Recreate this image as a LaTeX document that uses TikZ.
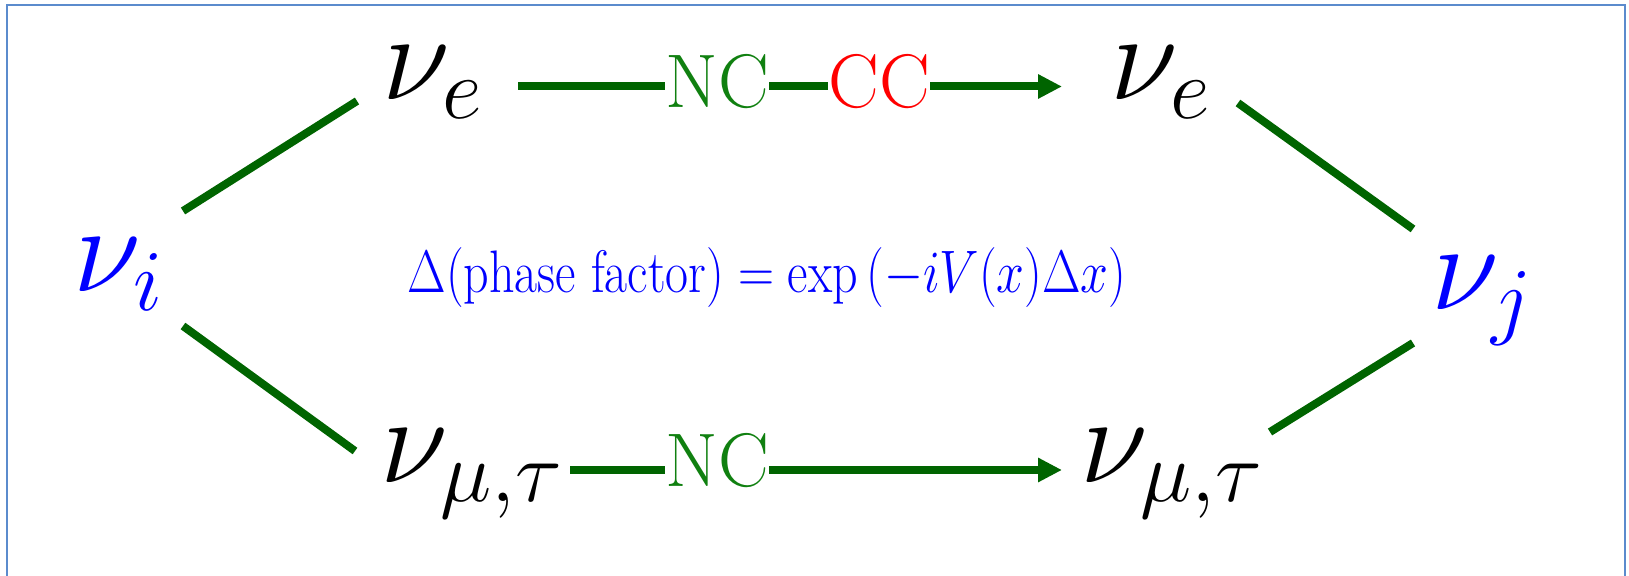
\RequirePackage{fix-cm}
\documentclass[tikz,border=0pt]{standalone}
\usepackage{amsmath}
\usetikzlibrary{arrows.meta}
\definecolor{lgreen}{RGB}{0,100,0}
\definecolor{tgreen}{RGB}{16,128,16}
\definecolor{frameblue}{RGB}{91,139,205}
\begin{document}
\begin{tikzpicture}[x=0.5pt,y=-0.5pt,
  conn/.style={draw=lgreen,line width=4pt},
  arr/.style={conn,-{Triangle[length=12pt,width=11.5pt]}},
  nu/.style={inner sep=0pt,anchor=base west,font=\fontsize{62}{70}\selectfont},
  lbl/.style={inner sep=0pt,anchor=base west,font=\fontsize{38}{44}\selectfont},
  frame/.style={draw=frameblue,line width=1pt}
]
\useasboundingbox (0,0) rectangle (1629,576);
\draw[frame] (6.5,576) -- (6.5,5.5) -- (1625,5.5) -- (1625,576);

% neutrino nodes
\node[nu,text=blue] (nui) at (73,292) {$\nu_i$};
\node[nu,text=blue] (nuj) at (1431,310) {$\nu_j$};
\node[nu] (nue1) at (382,100) {$\nu_e$};
\node[nu] (nue2) at (1110,100) {$\nu_e$};
\node[nu] (num1) at (380,483) {$\nu_{\mu,\tau}$};
\node[nu] (num2) at (1080,483) {$\nu_{\mu,\tau}$};

% labels
\node[lbl,text=tgreen] (nct) at (665,108) {NC};
\node[lbl,text=red] (cct) at (828,108) {CC};
\node[lbl,text=tgreen] (ncb) at (665,487) {NC};
\node[inner sep=0pt,anchor=base west,text=blue,font=\fontsize{25}{30}\selectfont] (phase) at (407,293)
  {\scalebox{1}[1.2]{$\Delta(\text{phase factor}) = \exp\left(-iV(x)\Delta x\right)$}};

% connector end points
\coordinate (t0) at (518,86.5);
\coordinate (t1) at (1062,86.5);
\coordinate (b0) at (570,470);
\coordinate (b1) at (1062,470);
\coordinate (ul0) at (183,211);
\coordinate (ul1) at (357,101);
\coordinate (ll0) at (183,326);
\coordinate (ll1) at (355,451);
\coordinate (ur0) at (1238,103);
\coordinate (ur1) at (1413,229);
\coordinate (lr0) at (1270,432);
\coordinate (lr1) at (1413,343);

% top arrow
\draw[conn] (t0) -- (nct.west |- t0);
\draw[conn] (nct.east |- t0) -- (cct.west |- t0);
\draw[arr] (cct.east |- t0) -- (t1);
% bottom arrow
\draw[conn] (b0) -- (ncb.west |- b0);
\draw[arr] (ncb.east |- b0) -- (b1);
% diagonals
\draw[conn] (ul0) -- (ul1);
\draw[conn] (ll0) -- (ll1);
\draw[conn] (ur0) -- (ur1);
\draw[conn] (lr0) -- (lr1);
\end{tikzpicture}
\end{document}
